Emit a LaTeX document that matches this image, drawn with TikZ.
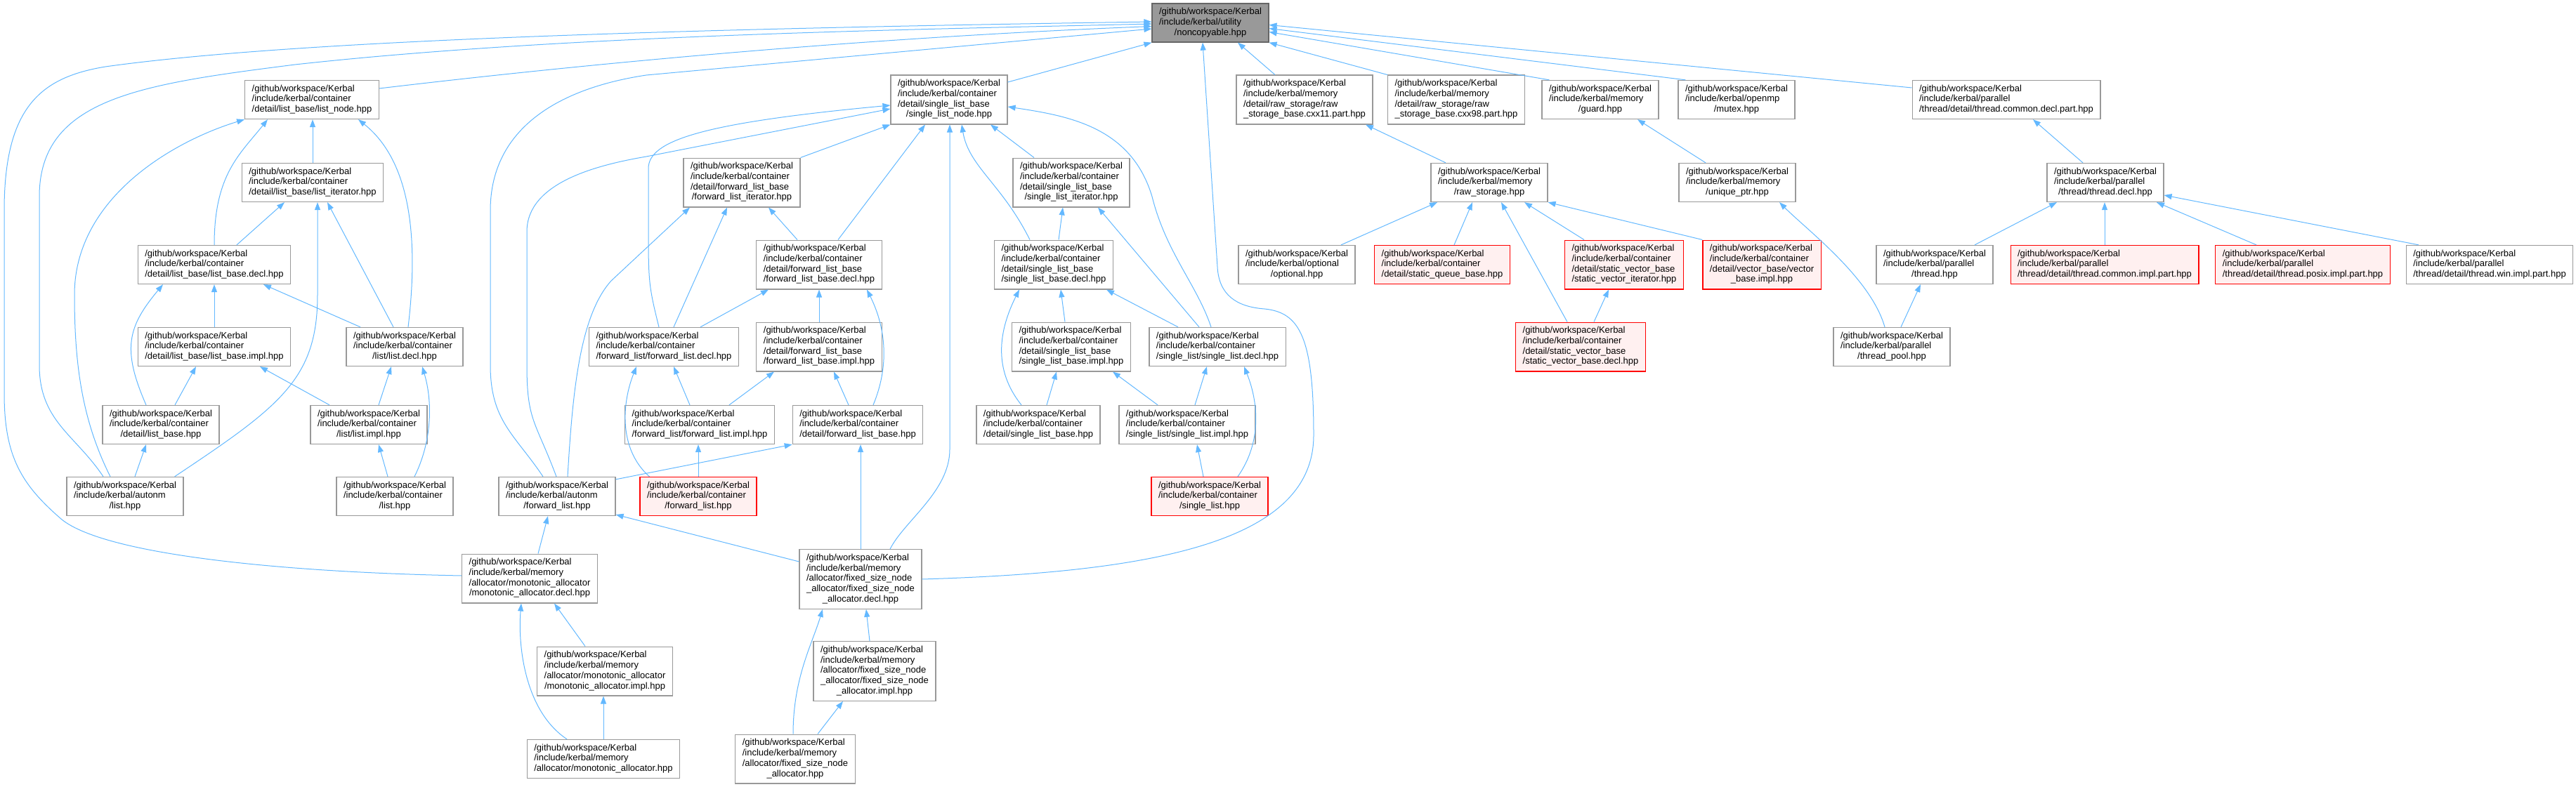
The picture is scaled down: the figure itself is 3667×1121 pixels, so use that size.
\documentclass[tikz,border=0pt]{standalone}
\usepackage{fontspec}
\setmainfont{Liberation Sans}
\usetikzlibrary{arrows.meta}
\definecolor{edgeblue}{HTML}{63B8FF}
\definecolor{boxgrey}{HTML}{999999}
\definecolor{darkgrey}{HTML}{666666}
\definecolor{missred}{HTML}{FF0000}
\definecolor{missfill}{HTML}{FFF0F0}
\newcommand{\lc}[1]{\multicolumn{1}{@{}c@{}}{#1}}
\newcommand{\kfile}[1]{\begin{tabular}{@{}l@{}}/github/workspace/Kerbal\\#1\end{tabular}}
\tikzset{
  filebox/.style={draw=boxgrey,fill=white,line width=1.2pt,inner xsep=10pt,inner ysep=5.5pt,
    font=\fontsize{13}{14.7}\selectfont},
  curbox/.style={filebox,fill=boxgrey,draw=darkgrey},
  redbox/.style={filebox,draw=missred,fill=missfill},
  dep/.style={draw=edgeblue,line width=1pt,-{Triangle[length=11pt,width=8pt]}}
}
\begin{document}
\begin{tikzpicture}[x=1pt,y=-1pt]
\useasboundingbox (0,0) rectangle (3667,1121);

\node[curbox] (nc) at (1723,32.5) {\kfile{/include/kerbal/utility\\\lc{/noncopyable.hpp}}};

\node[filebox] (lnode) at (444,142) {\kfile{/include/kerbal/container\\\lc{/detail/list\_base/list\_node.hpp}}};
\node[filebox] (slnode) at (1351,142) {\kfile{/include/kerbal/container\\/detail/single\_list\_base\\\lc{/single\_list\_node.hpp}}};
\node[filebox] (rsb11) at (1857,142) {\kfile{/include/kerbal/memory\\/detail/raw\_storage/raw\\\lc{\_storage\_base.cxx11.part.hpp}}};
\node[filebox] (rsb98) at (2073,142) {\kfile{/include/kerbal/memory\\/detail/raw\_storage/raw\\\lc{\_storage\_base.cxx98.part.hpp}}};
\node[filebox] (guard) at (2278,142) {\kfile{/include/kerbal/memory\\\lc{/guard.hpp}}};
\node[filebox] (mutex) at (2472,142) {\kfile{/include/kerbal/openmp\\\lc{/mutex.hpp}}};
\node[filebox] (tcdecl) at (2856,142) {\kfile{/include/kerbal/parallel\\\lc{/thread/detail/thread.common.decl.part.hpp}}};

\node[filebox] (liter) at (445,260) {\kfile{/include/kerbal/container\\\lc{/detail/list\_base/list\_iterator.hpp}}};
\node[filebox] (fliter) at (1056,260) {\kfile{/include/kerbal/container\\/detail/forward\_list\_base\\\lc{/forward\_list\_iterator.hpp}}};
\node[filebox] (sliter) at (1525,260) {\kfile{/include/kerbal/container\\/detail/single\_list\_base\\\lc{/single\_list\_iterator.hpp}}};
\node[filebox] (raw) at (2120,260) {\kfile{/include/kerbal/memory\\\lc{/raw\_storage.hpp}}};
\node[filebox] (uptr) at (2473,260) {\kfile{/include/kerbal/memory\\\lc{/unique\_ptr.hpp}}};
\node[filebox] (tdecl) at (2997,260) {\kfile{/include/kerbal/parallel\\\lc{/thread/thread.decl.hpp}}};

\node[filebox] (lbdecl) at (305,377) {\kfile{/include/kerbal/container\\\lc{/detail/list\_base/list\_base.decl.hpp}}};
\node[filebox] (flbdecl) at (1166,377) {\kfile{/include/kerbal/container\\/detail/forward\_list\_base\\\lc{/forward\_list\_base.decl.hpp}}};
\node[filebox] (slbdecl) at (1500,377) {\kfile{/include/kerbal/container\\/detail/single\_list\_base\\\lc{/single\_list\_base.decl.hpp}}};
\node[filebox] (optional) at (1846,377) {\kfile{/include/kerbal/optional\\\lc{/optional.hpp}}};
\node[redbox] (sqb) at (2053,377) {\kfile{/include/kerbal/container\\\lc{/detail/static\_queue\_base.hpp}}};
\node[redbox] (svit) at (2312,377) {\kfile{/include/kerbal/container\\/detail/static\_vector\_base\\\lc{/static\_vector\_iterator.hpp}}};
\node[redbox] (vbimpl) at (2508,377) {\kfile{/include/kerbal/container\\/detail/vector\_base/vector\\\lc{\_base.impl.hpp}}};
\node[filebox] (pthread) at (2754,377) {\kfile{/include/kerbal/parallel\\\lc{/thread.hpp}}};
\node[redbox] (tcimpl) at (2996,377) {\kfile{/include/kerbal/parallel\\\lc{/thread/detail/thread.common.impl.part.hpp}}};
\node[redbox] (tposix) at (3278,377) {\kfile{/include/kerbal/parallel\\\lc{/thread/detail/thread.posix.impl.part.hpp}}};
\node[filebox] (twin) at (3544,377) {\kfile{/include/kerbal/parallel\\\lc{/thread/detail/thread.win.impl.part.hpp}}};

\node[filebox] (lbimpl) at (305,494) {\kfile{/include/kerbal/container\\\lc{/detail/list\_base/list\_base.impl.hpp}}};
\node[filebox] (ldecl) at (576,494) {\kfile{/include/kerbal/container\\\lc{/list/list.decl.hpp}}};
\node[filebox] (fldecl) at (945,494) {\kfile{/include/kerbal/container\\\lc{/forward\_list/forward\_list.decl.hpp}}};
\node[filebox] (flbimpl) at (1166,494) {\kfile{/include/kerbal/container\\/detail/forward\_list\_base\\\lc{/forward\_list\_base.impl.hpp}}};
\node[filebox] (slbimpl) at (1525,494) {\kfile{/include/kerbal/container\\/detail/single\_list\_base\\\lc{/single\_list\_base.impl.hpp}}};
\node[filebox] (sldecl) at (1733,494) {\kfile{/include/kerbal/container\\\lc{/single\_list/single\_list.decl.hpp}}};
\node[redbox] (svbdecl) at (2250,494) {\kfile{/include/kerbal/container\\/detail/static\_vector\_base\\\lc{/static\_vector\_base.decl.hpp}}};
\node[filebox] (tpool) at (2693,494) {\kfile{/include/kerbal/parallel\\\lc{/thread\_pool.hpp}}};

\node[filebox] (lbase) at (229,605) {\kfile{/include/kerbal/container\\\lc{/detail/list\_base.hpp}}};
\node[filebox] (limpl) at (525,605) {\kfile{/include/kerbal/container\\\lc{/list/list.impl.hpp}}};
\node[filebox] (flimpl) at (996,605) {\kfile{/include/kerbal/container\\\lc{/forward\_list/forward\_list.impl.hpp}}};
\node[filebox] (flbase) at (1221,605) {\kfile{/include/kerbal/container\\\lc{/detail/forward\_list\_base.hpp}}};
\node[filebox] (slbase) at (1478,605) {\kfile{/include/kerbal/container\\\lc{/detail/single\_list\_base.hpp}}};
\node[filebox] (slimpl) at (1690,605) {\kfile{/include/kerbal/container\\\lc{/single\_list/single\_list.impl.hpp}}};

\node[filebox] (alist) at (178,707) {\kfile{/include/kerbal/autonm\\\lc{/list.hpp}}};
\node[filebox] (clist) at (562,707) {\kfile{/include/kerbal/container\\\lc{/list.hpp}}};
\node[filebox] (aflist) at (793,707) {\kfile{/include/kerbal/autonm\\\lc{/forward\_list.hpp}}};
\node[redbox] (cflist) at (994,707) {\kfile{/include/kerbal/container\\\lc{/forward\_list.hpp}}};
\node[redbox] (cslist) at (1722,707) {\kfile{/include/kerbal/container\\\lc{/single\_list.hpp}}};

\node[filebox] (madecl) at (754,824) {\kfile{/include/kerbal/memory\\/allocator/monotonic\_allocator\\\lc{/monotonic\_allocator.decl.hpp}}};
\node[filebox] (fadecl) at (1225,825) {\kfile{/include/kerbal/memory\\/allocator/fixed\_size\_node\\\_allocator/fixed\_size\_node\\\lc{\_allocator.decl.hpp}}};
\node[filebox] (maimpl) at (861,956) {\kfile{/include/kerbal/memory\\/allocator/monotonic\_allocator\\\lc{/monotonic\_allocator.impl.hpp}}};
\node[filebox] (faimpl) at (1245,956) {\kfile{/include/kerbal/memory\\/allocator/fixed\_size\_node\\\_allocator/fixed\_size\_node\\\lc{\_allocator.impl.hpp}}};
\node[filebox] (mahpp) at (859,1081) {\kfile{/include/kerbal/memory\\\lc{/allocator/monotonic\_allocator.hpp}}};
\node[filebox] (fahpp) at (1132,1081) {\kfile{/include/kerbal/memory\\/allocator/fixed\_size\_node\\\lc{\_allocator.hpp}}};

\draw[dep] ([yshift=16]lnode.east) .. controls (800,95) and (1200,55) .. ([yshift=-5]nc.west);
\draw[dep] ([xshift=-31]alist.north) .. controls +(-40,-60) and +(0,80) .. (56,520) -- (56,280) .. controls (56,140) and (200,120) .. (420,92) .. controls (800,50) and (1300,42) .. ([yshift=-1.5]nc.west);
\draw[dep] ([yshift=4]madecl.west) .. controls (400,815) and (150,790) .. (88,740) .. controls (30,690) and (6,650) .. (6,560) -- (6,300) .. controls (6,150) and (60,110) .. (150,95) .. controls (400,60) and (900,42) .. ([yshift=1.5]nc.west);
\draw[dep] ([xshift=-20]aflist.north) .. controls +(-40,-60) and +(0,80) .. (698,520) -- (698,300) .. controls (698,180) and (800,125) .. (920,107) -- ([yshift=-8.5]nc.west);
\draw[dep] ([yshift=25]slnode.east) -- (nc.south west);
\draw[dep] ([xshift=-42]rsb11.north) -- ([xshift=39]nc.south);
\draw[dep] (rsb98.north west) -- (nc.south east);
\draw[dep] ([xshift=11]guard.north west) -- ([yshift=-13]nc.east);
\draw[dep] ([xshift=11]mutex.north west) -- ([yshift=-8]nc.east);
\draw[dep] ([yshift=17]tcdecl.west) -- ([yshift=-3]nc.east);
\draw[dep] (fadecl.east) .. controls (1650,815) and (1870,770) .. (1870,620) .. controls (1870,480) and (1850,445) .. (1800,440) .. controls (1760,437) and (1735,420) .. (1733,380) -- ([xshift=-11]nc.south);

\draw[dep] (liter.north) -- (liter.north |- lnode.south);
\draw[dep] (lbdecl.north) .. controls +(0,-100) and +(-40,50) .. ([xshift=-63]lnode.south);
\draw[dep] ([xshift=-21]alist.north) .. controls +(-40,-80) and +(0,100) .. (106,420) .. controls (106,280) and (250,200) .. (lnode.south west);
\draw[dep] ([xshift=5]ldecl.north) .. controls (596,340) and (585,230) .. ([xshift=66]lnode.south);
\draw[dep] ([xshift=-13]alist.north east) .. controls +(150,-100) and +(0,120) .. (452,420) -- ([xshift=7]liter.south);
\draw[dep] ([xshift=32]lbdecl.north) -- ([xshift=-40]liter.south);
\draw[dep] ([xshift=-16]ldecl.north) -- ([xshift=21]liter.south);

\draw[dep] ([xshift=-21]lbase.north) .. controls +(-35,-80) and +(-50,60) .. ([xshift=-73]lbdecl.south);
\draw[dep] (lbimpl.north) -- (lbdecl.south);
\draw[dep] ([xshift=-63]ldecl.north) -- ([xshift=70]lbdecl.south);
\draw[dep] ([xshift=20]lbase.north) -- ([xshift=-26]lbimpl.south);
\draw[dep] ([xshift=-56]limpl.north) -- ([xshift=65]lbimpl.south);
\draw[dep] ([xshift=14]limpl.north) -- ([xshift=-19]ldecl.south);
\draw[dep] ([xshift=28]clist.north) .. controls +(25,-50) and +(15,50) .. ([xshift=25]ldecl.south);
\draw[dep] ([xshift=14]alist.north) -- ([xshift=-21]lbase.south);
\draw[dep] ([xshift=-10]clist.north) -- ([xshift=14]limpl.south);

\draw[dep] (fliter.north east) -- (slnode.south west);
\draw[dep] ([xshift=27]flbdecl.north) -- ([xshift=-34]slnode.south);
\draw[dep] ([xshift=42]fadecl.north) .. controls +(20,-40) and +(0,60) .. (1352,640) -- ([xshift=1]slnode.south);
\draw[dep] ([xshift=-34]slbdecl.north) .. controls +(-40,-80) and +(10,60) .. ([xshift=18]slnode.south);
\draw[dep] ([xshift=-53]sliter.north) -- ([xshift=59]slnode.south);
\draw[dep] ([xshift=-9]sldecl.north) .. controls +(-20,-60) and +(20,80) .. (1640,280) .. controls (1610,180) and (1520,165) .. ([yshift=-10]slnode.east);
\draw[dep] ([xshift=-7]fldecl.north) .. controls +(-15,-60) and +(0,80) .. (923,320) -- (923,240) .. controls (923,200) and (1000,175) .. ([yshift=-8]slnode.west);
\draw[dep] ([xshift=-1]aflist.north) .. controls +(-30,-80) and +(0,80) .. (750,520) -- (750,330) .. controls (750,260) and (850,235) .. (920,223) -- ([yshift=-13]slnode.west);

\draw[dep] ([xshift=15]aflist.north) .. controls (815,560) and (825,450) .. (870,400) -- ([xshift=-74]fliter.south);
\draw[dep] ([xshift=14]fldecl.north) -- ([xshift=-21]fliter.south);
\draw[dep] ([xshift=-31]flbdecl.north) -- ([xshift=38]fliter.south);

\draw[dep] ([xshift=52]fldecl.north) -- ([xshift=-72]flbdecl.south);
\draw[dep] (flbimpl.north) -- (flbdecl.south);
\draw[dep] ([xshift=22]flbase.north) .. controls +(25,-60) and +(25,50) .. ([xshift=68]flbdecl.south);
\draw[dep] ([xshift=-14]flimpl.north) -- ([xshift=14]fldecl.south);
\draw[dep] ([xshift=14]cflist.north west) .. controls +(-45,-40) and +(-20,50) .. ([xshift=-39]fldecl.south);
\draw[dep] ([xshift=42]flimpl.north) -- ([xshift=-64]flbimpl.south);
\draw[dep] ([xshift=-13]flbase.north) -- ([xshift=21]flbimpl.south);
\draw[dep] (cflist.north) -- (cflist.north |- flimpl.south);
\draw[dep] ([yshift=-4]aflist.north east) -- (flbase.south west);
\draw[dep] (fadecl.north) -- (fadecl.north |- flbase.south);

\draw[dep] ([xshift=-24]slbase.north) .. controls +(-40,-50) and +(-30,60) .. ([xshift=-49]slbdecl.south);
\draw[dep] ([xshift=-9]slbimpl.north) -- ([xshift=10]slbdecl.south);
\draw[dep] ([xshift=-56]sldecl.north) -- ([xshift=75]slbdecl.south);
\draw[dep] ([xshift=7]slbdecl.north) -- ([xshift=-12]sliter.south);
\draw[dep] ([xshift=-26]sldecl.north) -- ([xshift=38]sliter.south);
\draw[dep] ([xshift=12]slbase.north) -- ([xshift=-21]slbimpl.south);
\draw[dep] ([xshift=-42]slimpl.north) -- ([xshift=59]slbimpl.south);
\draw[dep] ([xshift=11]slimpl.north) -- ([xshift=-15]sldecl.south);
\draw[dep] ([xshift=40]cslist.north) .. controls +(35,-50) and +(20,50) .. ([xshift=38]sldecl.south);
\draw[dep] ([xshift=-9]cslist.north) -- ([xshift=14]slimpl.south);

\draw[dep] ([xshift=-62]raw.north) -- ([xshift=87]rsb11.south);
\draw[dep] ([xshift=-45]uptr.north) -- ([xshift=53]guard.south);
\draw[dep] ([xshift=63]optional.north) -- ([xshift=-74]raw.south);
\draw[dep] ([xshift=17]sqb.north) -- ([xshift=-24]raw.south);
\draw[dep] ([xshift=-19]svbdecl.north) -- ([xshift=17]raw.south);
\draw[dep] ([xshift=-57]svit.north) -- ([xshift=50]raw.south);
\draw[dep] (vbimpl.north west) -- (raw.south east);
\draw[dep] ([xshift=-10]tpool.north) .. controls +(-20,-70) and +(40,40) .. ([xshift=60]uptr.south);
\draw[dep] ([xshift=19]svbdecl.north) -- ([xshift=-22]svit.south);

\draw[dep] ([xshift=-32]tdecl.north) -- ([xshift=38]tcdecl.south);
\draw[dep] ([xshift=57]pthread.north) -- ([xshift=-69]tdecl.south);
\draw[dep] (tcimpl.north) -- (tcimpl.north |- tdecl.south);
\draw[dep] ([xshift=-66]tposix.north) -- ([xshift=73]tdecl.south);
\draw[dep] ([xshift=-101]twin.north) -- ([yshift=-18]tdecl.east);
\draw[dep] ([xshift=13]tpool.north) -- ([xshift=-20]pthread.south);

\draw[dep] ([xshift=12]madecl.north) -- ([xshift=-13]aflist.south);
\draw[dep] ([yshift=25]fadecl.west) -- ([yshift=-26]aflist.east);
\draw[dep] ([xshift=-52]mahpp.north) .. controls +(-60,-40) and +(-5,60) .. ([xshift=-12]madecl.south);
\draw[dep] ([xshift=-28]maimpl.north) -- ([xshift=35]madecl.south);
\draw[dep] (mahpp.north) -- (mahpp.north |- maimpl.south);
\draw[dep] ([xshift=-3]fahpp.north) .. controls +(0,-80) and +(-15,50) .. ([xshift=-54]fadecl.south);
\draw[dep] ([xshift=-7]faimpl.north) -- ([xshift=8]fadecl.south);
\draw[dep] ([xshift=32]fahpp.north) -- ([xshift=-45]faimpl.south);
\end{tikzpicture}
\end{document}
